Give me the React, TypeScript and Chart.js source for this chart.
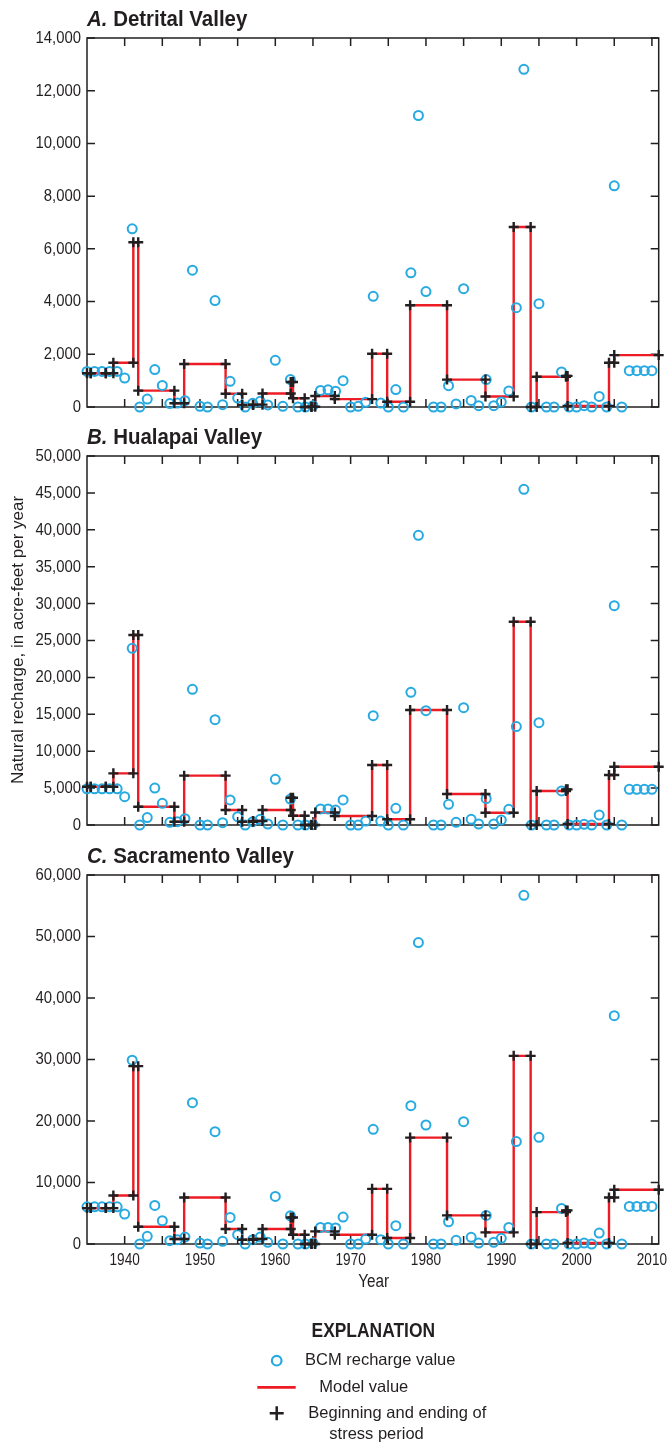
import React, { useEffect, useRef } from 'react';
import { Chart, registerables } from 'chart.js';

Chart.register(...registerables);

// Water years of the Basin Characterization Model (BCM) series
const YEARS = [
  1935, 1936, 1937, 1938, 1939, 1940, 1941, 1942, 1943, 1944,
  1945, 1946, 1947, 1948, 1949, 1950, 1951, 1952, 1953, 1954,
  1955, 1956, 1957, 1958, 1959, 1960, 1961, 1962, 1963, 1964,
  1965, 1966, 1967, 1968, 1969, 1970, 1971, 1972, 1973, 1974,
  1975, 1976, 1977, 1978, 1979, 1980, 1981, 1982, 1983, 1984,
  1985, 1986, 1987, 1988, 1989, 1990, 1991, 1992, 1993, 1994,
  1995, 1996, 1997, 1998, 1999, 2000, 2001, 2002, 2003, 2004,
  2005, 2006, 2007, 2008, 2009, 2010,
];

// BCM recharge, acre-feet per year
const BCM_DETRITAL = [
  1350, 1350, 1350, 1350, 1350, 1100, 6760, 0, 300, 1420,
  820, 130, 150, 240, 5190, 25, 0, 4040, 90, 975,
  340, 0, 140, 215, 80, 1770, 25, 1040, 0, 0,
  50, 630, 650, 600, 1000, 0, 25, 180, 4200, 150,
  0, 660, 0, 5090, 11060, 4380, 0, 0, 810, 115,
  4490, 250, 50, 1040, 50, 190, 610, 3770, 12810, 0,
  3920, 0, 0, 1330, 0, 0, 50, 0, 400, 0,
  8390, 0, 1380, 1380, 1380, 1380,
];

const BCM_HUALAPAI = [
  4900, 4900, 4900, 4900, 4900, 3840, 23940, 0, 1000, 5010,
  2940, 360, 450, 860, 18380, 0, 0, 14270, 320, 3390,
  1130, 0, 450, 770, 135, 6190, 0, 3520, 0, 0,
  50, 2170, 2170, 2030, 3390, 0, 0, 540, 14815, 540,
  0, 2260, 0, 17980, 39250, 15490, 0, 0, 2800, 360,
  15900, 770, 135, 3570, 135, 680, 2120, 13330, 45490, 0,
  13870, 0, 0, 4610, 0, 0, 90, 0, 1355, 0,
  29720, 0, 4830, 4830, 4830, 4830,
];

const BCM_SACRAMENTO = [
  6050, 6050, 6050, 6050, 6050, 4860, 29890, 0, 1240, 6270,
  3780, 540, 700, 1135, 22970, 160, 0, 18270, 430, 4320,
  1510, 0, 700, 1135, 270, 7730, 0, 4590, 0, 0,
  160, 2700, 2700, 2600, 4380, 0, 0, 810, 18650, 700,
  0, 2970, 0, 22490, 49020, 19350, 0, 0, 3620, 590,
  19890, 1080, 160, 4650, 270, 920, 2700, 16650, 56700, 0,
  17350, 0, 0, 5780, 0, 0, 160, 0, 1780, 0,
  37130, 0, 6110, 6110, 6110, 6110,
];

// Stress-period boundaries (decimal years); period i runs from bound i to bound i+1
const PERIOD_BOUNDS = [
  1935.0, 1935.5, 1937.5, 1938.5, 1941.15, 1941.8, 1946.6, 1947.9, 1953.4, 1955.6,
  1957.05, 1958.3, 1962.05, 1962.35, 1963.9, 1964.8, 1965.3, 1967.9, 1972.85, 1974.85,
  1977.9, 1982.8, 1987.9, 1991.65, 1993.9, 1994.7, 1998.6, 1998.8, 2004.3, 2005.0,
  2010.9,
];

// Model recharge for each stress period, acre-feet per year
const MODEL_DETRITAL = [
  1280, 1280, 1280, 1680, 6250, 620, 140, 1630, 500, 80,
  90, 510, 950, 330, 0, 10, 420, 300, 2020, 200,
  3860, 1040, 400, 6830, 0, 1150, 1180, 40, 1680, 1970,
];

const MODEL_HUALAPAI = [
  5190, 5190, 5190, 7000, 25750, 2480, 450, 6690, 2030, 450,
  540, 2030, 3700, 1260, 0, 0, 1700, 1220, 8130, 770,
  15580, 4200, 1670, 27550, 0, 4610, 4830, 135, 6780, 7900,
];

const MODEL_SACRAMENTO = [
  5840, 5840, 5840, 7890, 28920, 2810, 810, 7570, 2430, 700,
  810, 2430, 4320, 1510, 0, 0, 2050, 1510, 8970, 970,
  17300, 4650, 1890, 30590, 0, 5190, 5460, 160, 7570, 8810,
];

const X_TICK_LABELS = [1940, 1950, 1960, 1970, 1980, 1990, 2000, 2010];
const X_TICK_MARKS = [1940, 1945, 1950, 1955, 1960, 1965, 1970, 1975, 1980, 1985, 1990, 1995, 2000, 2005, 2010];
const X_MIN = 1935;
const X_MAX = 2010.9;

const INK = '#231f20';
const CYAN = '#27aae1';
const RED = '#ed1c24';
const FONT = '"Liberation Sans", Arial, sans-serif';

const TICK = 8;
const PLOT_LEFT = 87;
const PLOT_RIGHT_PAD = 11.3;
const PLOT_HEIGHT = 369;

type Ctx = CanvasRenderingContext2D;

function drawText(
  ctx: Ctx, text: string, x: number, y: number, font: string,
  align: CanvasTextAlign, baseline: CanvasTextBaseline, sx = 1,
) {
  ctx.save();
  ctx.translate(x, y);
  ctx.scale(sx, 1);
  ctx.font = font;
  ctx.textAlign = align;
  ctx.textBaseline = baseline;
  ctx.fillStyle = INK;
  ctx.fillText(text, 0, 0);
  ctx.restore();
}

function stepPoints(bounds: number[], values: number[]) {
  const pts: { x: number; y: number }[] = [];
  values.forEach((v, i) => {
    pts.push({ x: bounds[i], y: v });
    pts.push({ x: bounds[i + 1], y: v });
  });
  return pts;
}

interface PanelSpec {
  letter: string;
  name: string;
  bcm: number[];
  model: number[];
  yMax: number;
  yStep: number;
  plotTop: number;
  canvasHeight: number;
  showXLabels: boolean;
  extra?: (ctx: Ctx) => void;
}

function panelPlugin(spec: PanelSpec) {
  return {
    id: 'panelDecor' + spec.letter,
    beforeDatasetsDraw(chart: any) {
      const { ctx, chartArea: a } = chart;
      const xs = chart.scales.x;
      const ys = chart.scales.y;
      ctx.save();
      ctx.strokeStyle = INK;
      ctx.lineWidth = 1.5;
      ctx.strokeRect(a.left, a.top, a.right - a.left, a.bottom - a.top);
      ctx.beginPath();
      for (const t of ys.ticks) {
        const py = ys.getPixelForValue(t.value);
        ctx.moveTo(a.left, py);
        ctx.lineTo(a.left + TICK, py);
        ctx.moveTo(a.right, py);
        ctx.lineTo(a.right - TICK, py);
      }
      for (const v of X_TICK_MARKS) {
        const px = xs.getPixelForValue(v);
        ctx.moveTo(px, a.bottom);
        ctx.lineTo(px, a.bottom - TICK);
        ctx.moveTo(px, a.top);
        ctx.lineTo(px, a.top + TICK);
      }
      ctx.stroke();
      ctx.restore();
    },
    afterDraw(chart: any) {
      const { ctx, chartArea: a } = chart;
      const xs = chart.scales.x;
      const ys = chart.scales.y;
      const tickFont = `16px ${FONT}`;
      for (const t of ys.ticks) {
        const py = ys.getPixelForValue(t.value);
        drawText(ctx, Number(t.value).toLocaleString('en-US'), a.left - 6, py + 0.5, tickFont, 'right', 'middle', 0.93);
      }
      if (spec.showXLabels) {
        for (const v of X_TICK_LABELS) {
          drawText(ctx, String(v), xs.getPixelForValue(v), a.bottom + 21, `17px ${FONT}`, 'center', 'alphabetic', 0.8);
        }
      }
      // Panel title: italic bold letter, bold name
      const sx = 0.93;
      const baseY = a.top - 12;
      ctx.save();
      ctx.font = `italic bold 22px ${FONT}`;
      const wLetter = ctx.measureText(spec.letter + '. ').width * sx;
      ctx.restore();
      drawText(ctx, spec.letter + '. ', a.left, baseY, `italic bold 22px ${FONT}`, 'left', 'alphabetic', sx);
      drawText(ctx, spec.name, a.left + wLetter, baseY, `bold 22px ${FONT}`, 'left', 'alphabetic', sx);
      if (spec.extra) spec.extra(ctx);
    },
  };
}

function buildConfig(spec: PanelSpec): any {
  const steps = stepPoints(PERIOD_BOUNDS, spec.model);
  const bcmPts = YEARS.map((yr, i) => ({ x: yr, y: spec.bcm[i] }));
  const xAxisHeight = spec.canvasHeight - spec.plotTop - PLOT_HEIGHT;
  return {
    type: 'scatter',
    data: {
      datasets: [
        {
          label: 'Beginning and ending of stress period',
          data: steps,
          showLine: false,
          pointStyle: 'cross',
          pointRadius: 5,
          pointBorderWidth: 2.4,
          pointBorderColor: INK,
          pointBackgroundColor: INK,
          pointHoverRadius: 5,
          clip: false,
          order: 0,
        },
        {
          label: 'BCM recharge value',
          data: bcmPts,
          showLine: false,
          pointStyle: 'circle',
          pointRadius: 4.5,
          pointBorderWidth: 2,
          pointBorderColor: CYAN,
          pointBackgroundColor: 'rgba(0,0,0,0)',
          pointHoverRadius: 4.5,
          clip: false,
          order: 1,
        },
        {
          label: 'Model value',
          data: steps,
          showLine: true,
          borderColor: RED,
          borderWidth: 2.4,
          pointRadius: 0,
          pointHoverRadius: 0,
          tension: 0,
          clip: false,
          order: 2,
        },
      ],
    },
    options: {
      responsive: false,
      animation: false,
      devicePixelRatio: 1,
      events: [],
      layout: { padding: { top: spec.plotTop, right: PLOT_RIGHT_PAD, left: 0, bottom: 0 } },
      plugins: {
        legend: { display: false },
        tooltip: { enabled: false },
        title: { display: false },
      },
      scales: {
        x: {
          type: 'linear',
          min: X_MIN,
          max: X_MAX,
          grid: { display: false, drawTicks: false },
          border: { display: false },
          ticks: { display: false },
          afterFit: (s: any) => { s.height = xAxisHeight; },
        },
        y: {
          type: 'linear',
          min: 0,
          max: spec.yMax,
          grid: { display: false, drawTicks: false },
          border: { display: false },
          ticks: { display: false, stepSize: spec.yStep },
          afterFit: (s: any) => { s.width = PLOT_LEFT; },
        },
      },
    },
    plugins: [panelPlugin(spec)],
  };
}

// Vertical axis title shared by the three panels (drawn in the middle panel)
function drawAxisTitle(ctx: Ctx) {
  ctx.save();
  ctx.translate(18, 220);
  ctx.rotate(-Math.PI / 2);
  ctx.font = `17px ${FONT}`;
  ctx.textAlign = 'center';
  ctx.textBaseline = 'middle';
  ctx.fillStyle = INK;
  ctx.fillText('Natural recharge, in acre-feet per year', 0, 0);
  ctx.restore();
}

// "Year" caption and the explanation block below the bottom panel
function drawExplanation(ctx: Ctx) {
  drawText(ctx, 'Year', 373.7, 442, `18px ${FONT}`, 'center', 'middle', 0.85);
  drawText(ctx, 'EXPLANATION', 373.3, 491, `bold 20.5px ${FONT}`, 'center', 'middle', 0.85);

  ctx.save();
  ctx.strokeStyle = CYAN;
  ctx.lineWidth = 2.2;
  ctx.beginPath();
  ctx.arc(276.7, 520.7, 4.8, 0, Math.PI * 2);
  ctx.stroke();

  ctx.strokeStyle = RED;
  ctx.lineWidth = 2.7;
  ctx.beginPath();
  ctx.moveTo(257.3, 547.3);
  ctx.lineTo(295.7, 547.3);
  ctx.stroke();

  ctx.strokeStyle = INK;
  ctx.lineWidth = 2.5;
  ctx.beginPath();
  ctx.moveTo(269.7, 573.3);
  ctx.lineTo(283.7, 573.3);
  ctx.moveTo(276.7, 566.3);
  ctx.lineTo(276.7, 580.3);
  ctx.stroke();
  ctx.restore();

  const f = `16.5px ${FONT}`;
  drawText(ctx, 'BCM recharge value', 305, 520.7, f, 'left', 'middle');
  drawText(ctx, 'Model value', 319.3, 547.3, f, 'left', 'middle');
  drawText(ctx, 'Beginning and ending of', 308.3, 573.3, f, 'left', 'middle');
  drawText(ctx, 'stress period', 329.3, 594, f, 'left', 'middle');
}

const PANELS: { top: number; spec: PanelSpec }[] = [
  {
    top: 0,
    spec: {
      letter: 'A', name: 'Detrital Valley', bcm: BCM_DETRITAL, model: MODEL_DETRITAL,
      yMax: 14000, yStep: 2000, plotTop: 38, canvasHeight: 420, showXLabels: false,
    },
  },
  {
    top: 420,
    spec: {
      letter: 'B', name: 'Hualapai Valley', bcm: BCM_HUALAPAI, model: MODEL_HUALAPAI,
      yMax: 50000, yStep: 5000, plotTop: 36, canvasHeight: 420, showXLabels: false,
      extra: drawAxisTitle,
    },
  },
  {
    top: 840,
    spec: {
      letter: 'C', name: 'Sacramento Valley', bcm: BCM_SACRAMENTO, model: MODEL_SACRAMENTO,
      yMax: 60000, yStep: 10000, plotTop: 35, canvasHeight: 603, showXLabels: true,
      extra: drawExplanation,
    },
  },
];

export default function App() {
  const refs = [useRef<HTMLCanvasElement>(null), useRef<HTMLCanvasElement>(null), useRef<HTMLCanvasElement>(null)];

  useEffect(() => {
    const charts = PANELS.map((p, i) => new Chart(refs[i].current as HTMLCanvasElement, buildConfig(p.spec)));
    return () => charts.forEach((c) => c.destroy());
  }, []);

  return (
    <div style={{ position: 'absolute', left: 0, top: 0, width: 670, height: 1443, background: '#ffffff' }}>
      {PANELS.map((p, i) => (
        <canvas
          key={p.spec.letter}
          ref={refs[i]}
          width={670}
          height={p.spec.canvasHeight}
          style={{ position: 'absolute', left: 0, top: p.top, width: 670, height: p.spec.canvasHeight }}
        />
      ))}
    </div>
  );
}
